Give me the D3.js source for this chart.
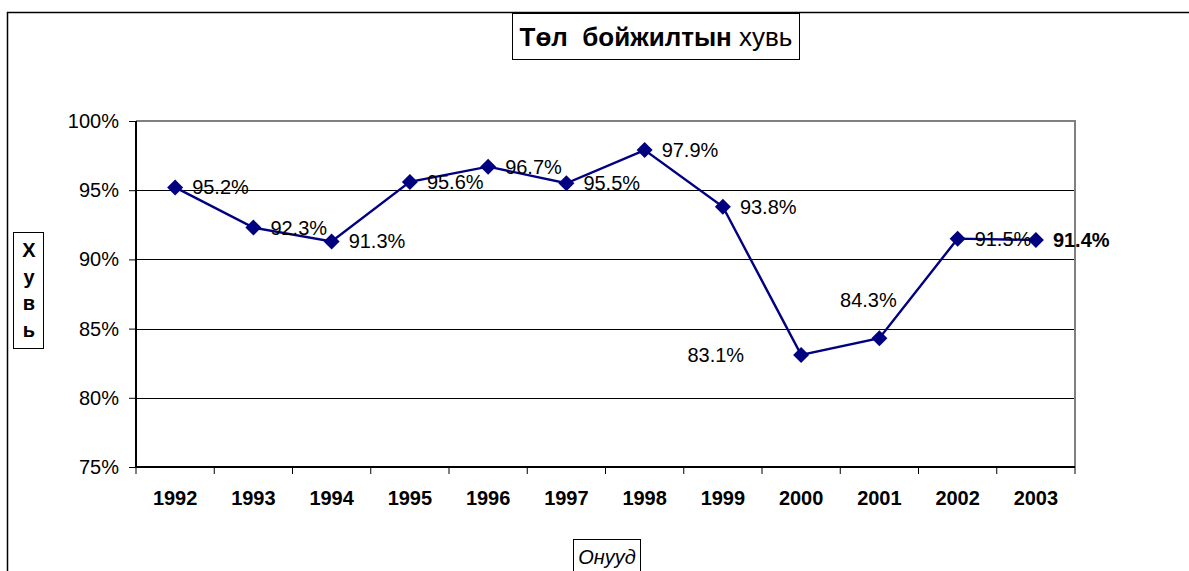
<!DOCTYPE html>
<html>
<head>
<meta charset="utf-8">
<script src="https://cdn.jsdelivr.net/npm/d3@7"></script>
<style>
  body { margin: 0; background: #fff; }
  svg { display: block; font-family: Arial, "Liberation Sans", sans-serif; }
</style>
</head>
<body>
<svg id="chart" width="1189" height="571"></svg>
<script>
// data
const years = ['1992', '1993', '1994', '1995', '1996', '1997', '1998', '1999', '2000', '2001', '2002', '2003'];
const survival = [95.2, 92.3, 91.3, 95.6, 96.7, 95.5, 97.9, 93.8, 83.1, 84.3, 91.5, 91.4];
const labelSide = ['right', 'right', 'right', 'right', 'right', 'right', 'right', 'right', 'left', 'above', 'right', 'bold'];
const yTicks = [75, 80, 85, 90, 95, 100];

const svg = d3.select('#chart');
const plot = {left: 136, top: 121, right: 1075, bottom: 467};

// outer frame (only top and left edges fall inside the picture)
svg.append('path')
    .attr('d', `M 7.5,571 L 7.5,12.5 L 1189,12.5`)
    .attr('fill', 'none').attr('stroke', '#000').attr('stroke-width', 1.5);

const x = d3.scaleBand().domain(years).range([plot.left, plot.right]);
const y = d3.scaleLinear().domain([75, 100]).range([plot.bottom, plot.top]);

// gridlines
svg.append('g')
    .selectAll('line').data(yTicks.filter(t => t > 75 && t < 100))
    .join('line')
    .attr('x1', plot.left).attr('x2', plot.right)
    .attr('y1', d => Math.round(y(d)) + 0.5).attr('y2', d => Math.round(y(d)) + 0.5)
    .attr('stroke', '#000').attr('stroke-width', 1);

// gray top/right plot border
svg.append('path')
    .attr('d', `M ${plot.left},${plot.top} L ${plot.right},${plot.top} L ${plot.right},${plot.bottom}`)
    .attr('fill', 'none').attr('stroke', '#808080').attr('stroke-width', 2);

// y axis
const yAxis = svg.append('g')
    .attr('transform', `translate(${plot.left},0)`)
    .call(d3.axisLeft(y).tickValues(yTicks).tickSize(7).tickPadding(10).tickFormat(d => d + '%'));
yAxis.select('.domain').attr('stroke', '#000').attr('stroke-width', 2).attr('d', `M0,${plot.top}V${plot.bottom}`);
yAxis.selectAll('.tick line').attr('stroke', '#000');
yAxis.selectAll('.tick text').attr('font-size', 20).attr('fill', '#000').attr('font-family', 'Arial, "Liberation Sans", sans-serif');

// x axis: ticks at category boundaries
const xAxis = svg.append('g').attr('transform', `translate(0,${plot.bottom})`);
xAxis.append('line')
    .attr('x1', plot.left).attr('x2', plot.right)
    .attr('stroke', '#000').attr('stroke-width', 2);
xAxis.selectAll('line.tk').data(years.concat(['end']))
    .join('line').attr('class', 'tk')
    .attr('x1', (d, i) => i < years.length ? x(d) : plot.right)
    .attr('x2', (d, i) => i < years.length ? x(d) : plot.right)
    .attr('y1', 0).attr('y2', 7)
    .attr('stroke', '#000').attr('stroke-width', 1);
xAxis.selectAll('text').data(years)
    .join('text')
    .attr('x', d => x(d) + x.bandwidth() / 2)
    .attr('y', 38)
    .attr('text-anchor', 'middle')
    .attr('font-size', 20).attr('font-weight', 'bold')
    .text(d => d);

// series line and markers
const pts = years.map((yr, i) => ({yr, v: survival[i], side: labelSide[i]}));
const cx = d => x(d.yr) + x.bandwidth() / 2;

svg.append('path')
    .datum(pts)
    .attr('d', d3.line().x(cx).y(d => y(d.v)))
    .attr('fill', 'none').attr('stroke', '#000080').attr('stroke-width', 2.4);

svg.append('g')
    .selectAll('path').data(pts)
    .join('path')
    .attr('transform', d => `translate(${cx(d)},${y(d.v)})`)
    .attr('d', 'M0,-8 L8,0 L0,8 L-8,0 Z')
    .attr('fill', '#000080');

// data labels
svg.append('g')
    .selectAll('text').data(pts)
    .join('text')
    .attr('x', d => d.side === 'left' ? cx(d) - 57 : d.side === 'above' ? cx(d) - 11 : cx(d) + 17)
    .attr('y', d => d.side === 'above' ? y(d.v) - 31 : y(d.v) + 7)
    .attr('text-anchor', d => d.side === 'left' ? 'end' : d.side === 'above' ? 'middle' : 'start')
    .attr('font-size', 20)
    .attr('font-weight', d => d.side === 'bold' ? 'bold' : 'normal')
    .attr('fill', '#000')
    .text(d => d.v.toFixed(1) + '%');

// title box
svg.append('rect').attr('x', 512.5).attr('y', 13.5).attr('width', 287).attr('height', 46)
    .attr('fill', '#fff').attr('stroke', '#000').attr('stroke-width', 1);
const title = svg.append('text').attr('x', 656).attr('y', 46).attr('text-anchor', 'middle').attr('font-size', 26);
title.append('tspan').attr('font-weight', 'bold').attr('xml:space', 'preserve').text('Төл  бойжилтын');
title.append('tspan').text(' хувь');

// y label box with stacked letters
svg.append('rect').attr('x', 13.5).attr('y', 232.5).attr('width', 30).attr('height', 116)
    .attr('fill', '#fff').attr('stroke', '#000').attr('stroke-width', 1);
svg.append('g')
    .selectAll('text').data(['Х', 'у', 'в', 'ь'])
    .join('text')
    .attr('x', 29).attr('y', (d, i) => 257 + i * 26.5)
    .attr('text-anchor', 'middle')
    .attr('font-size', 20).attr('font-weight', 'bold')
    .text(d => d);

// x label box
svg.append('rect').attr('x', 573.5).attr('y', 539.5).attr('width', 67).attr('height', 40)
    .attr('fill', '#fff').attr('stroke', '#000').attr('stroke-width', 1);
svg.append('text').attr('x', 607).attr('y', 564).attr('text-anchor', 'middle')
    .attr('font-size', 20).attr('font-style', 'italic').text('Онууд');
</script>
</body>
</html>
